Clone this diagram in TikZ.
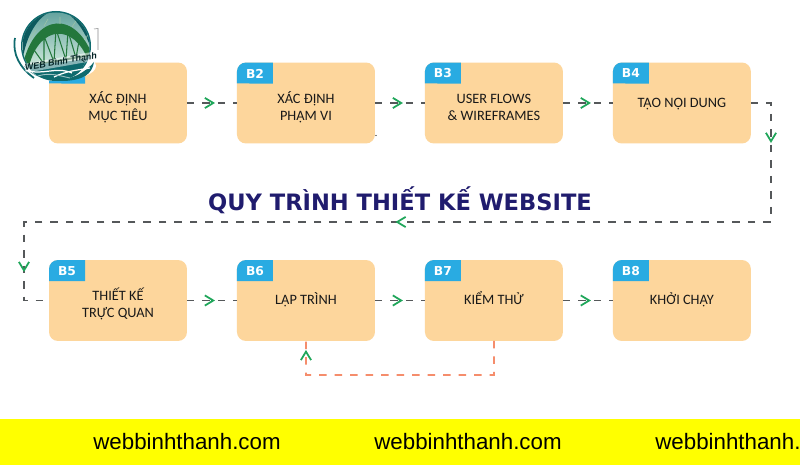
\documentclass[tikz,border=0pt]{standalone}
\usepackage{fontspec}
\setmainfont{Carlito}
\newfontfamily\headfont{DejaVu Sans}
\newfontfamily\webfont{Liberation Sans}
\usetikzlibrary{arrows.meta, positioning, decorations.markings}
\definecolor{boxorange}{HTML}{FDD69C}
\definecolor{tabblue}{HTML}{29ABE2}
\definecolor{headblue}{HTML}{201C6E}
\definecolor{flowgray}{HTML}{55585A}
\definecolor{flowgreen}{HTML}{1FA65A}
\definecolor{backsalmon}{HTML}{F58D6C}
\definecolor{bandyellow}{HTML}{FFFF00}
\definecolor{logoteal}{HTML}{0E6A6E}
\definecolor{logomint}{HTML}{CDE8DA}
\definecolor{logogreen}{HTML}{23773C}
\tikzset{
  greentip/.tip={Straight Barb[length=4.8pt,width=5.8pt,color=flowgreen,line width=1pt]},
  tipat/.style={postaction={decorate,decoration={markings,mark=at position #1 with {\arrow{greentip}}}}},
  stepbox/.style={fill=boxorange,minimum width=2.76cm,minimum height=1.62cm,rounded corners=0.18cm,inner sep=0pt,outer sep=0pt},
  steptext/.style={align=center,inner sep=0pt,text=black!90,font=\fontsize{8.15}{9.7}\selectfont},
  oneline/.style={steptext,text height=7.5pt,text depth=2.4pt},
  tablabel/.style={inner sep=0pt,text=white,font=\headfont\bfseries\fontsize{7}{8}\selectfont},
  flowline/.style={draw=flowgray,line width=0.7pt,dash pattern=on 0.15cm off 0.16cm},
  backline/.style={draw=backsalmon,line width=1pt,dash pattern=on 0.15cm off 0.16cm},
  weblabel/.style={anchor=base west,inner sep=0pt,text=black,font=\webfont\fontsize{12.7}{14}\selectfont}
}
\newcommand{\steptab}[1]{%
  \fill[tabblue] ([yshift=-0.42cm]#1.north west) [rounded corners=0.18cm] -- (#1.north west) [sharp corners] -- ++(36,0) -- ++(0,21) -- cycle;
}
\begin{document}
\begin{tikzpicture}[x=0.02cm,y=-0.02cm]
\useasboundingbox (0,0) rectangle (800,465);
\fill[white] (0,0) rectangle (800,465);
\fill[bandyellow] (0,419) rectangle (800,465);

\node[stepbox] (b1) at (118,103) {};
\node[stepbox,right=1cm of b1] (b2) {};
\node[stepbox,right=1cm of b2] (b3) {};
\node[stepbox,right=1cm of b3] (b4) {};
\node[stepbox] (b5) at (118,300.5) {};
\node[stepbox,right=1cm of b5] (b6) {};
\node[stepbox,right=1cm of b6] (b7) {};
\node[stepbox,right=1cm of b7] (b8) {};

\steptab{b1}
\steptab{b2}
\steptab{b3}
\steptab{b4}
\steptab{b5}
\steptab{b6}
\steptab{b7}
\steptab{b8}
\node[tablabel] (tab2) at ([xshift=0.36cm,yshift=-0.22cm]b2.north west) {B2};
\node[tablabel] (tab3) at ([xshift=0.36cm,yshift=-0.22cm]b3.north west) {B3};
\node[tablabel] (tab4) at ([xshift=0.36cm,yshift=-0.22cm]b4.north west) {B4};
\node[tablabel] (tab5) at ([xshift=0.36cm,yshift=-0.22cm]b5.north west) {B5};
\node[tablabel] (tab6) at ([xshift=0.36cm,yshift=-0.22cm]b6.north west) {B6};
\node[tablabel] (tab7) at ([xshift=0.36cm,yshift=-0.22cm]b7.north west) {B7};
\node[tablabel] (tab8) at ([xshift=0.36cm,yshift=-0.22cm]b8.north west) {B8};

\node[steptext] (t1) at ([yshift=-0.08cm]b1.center) {XÁC ĐỊNH\\MỤC TIÊU};
\node[steptext] (t2) at ([yshift=-0.08cm]b2.center) {XÁC ĐỊNH\\PHẠM VI};
\node[steptext] (t3) at ([yshift=-0.08cm]b3.center) {USER FLOWS\\\& WIREFRAMES};
\node[oneline] (t4) at (b4.center) {TẠO NỘI DUNG};
\node[steptext] (t5) at ([yshift=-0.06cm]b5.center) {THIẾT KẾ\\TRỰC QUAN};
\node[oneline] (t6) at (b6.center) {LẬP TRÌNH};
\node[oneline] (t7) at (b7.center) {KIỂM THỬ};
\node[oneline] (t8) at (b8.center) {KHỞI CHẠY};

\draw[flowline,tipat=0.56] (b1) -- (b2);
\draw[flowline,tipat=0.56] (b2) -- (b3);
\draw[flowline,tipat=0.56] (b3) -- (b4);
\draw[flowline,tipat=0.56] (b5) -- (b6);
\draw[flowline,tipat=0.56] (b6) -- (b7);
\draw[flowline,tipat=0.56] (b7) -- (b8);

\coordinate (c1) at (771,103);
\coordinate (c2) at (771,222);
\coordinate (c3) at (24,222);
\coordinate (c4) at (24,300.5);
\draw[flowline,tipat=0.0607,tipat=0.52,tipat=0.946] (b4) -- (c1) -- (c2) -- (c3) -- (c4) -- (b5);

\coordinate (c5) at (494,375);
\coordinate (c6) at (306,375);
\draw[backline,tipat=0.965] (b7.south) -- (c5) -- (c6) -- (b6.south);

\node[inner sep=0pt,text=headblue,font=\headfont\bfseries\fontsize{12.85}{15}\selectfont] (title) at (400,200) {QUY TRÌNH THIẾT KẾ WEBSITE};

\fill[black] (376,135.5) circle (0.6);

\node[weblabel] (web1) at (93,449) {webbinhthanh.com};
\node[weblabel] (web2) at (374,449) {webbinhthanh.com};
\node[weblabel] (web3) at (655,449) {webbinhthanh.};

\fill[white] (55,44) circle (37);
\fill[white] (60,66) ellipse (36 and 14);
\draw[flowgray!70,line width=0.3pt] (94,29) -- (98,28.5) -- (98,50);
\fill[logoteal] (56,46) circle (35);
\begin{scope}
\clip (56,46) circle (33.5);
\shade[top color=logoteal!55!logomint,bottom color=logomint] (15,12) rectangle (98,66);
\fill[logoteal!85!black] (18,12) -- (50,12) .. controls (36,18) and (24,40) .. (22,66) -- (15,66) -- cycle;
\fill[logoteal!85!black] (94,12) -- (66,12) .. controls (80,22) and (90,40) .. (94,60) -- cycle;
\fill[logogreen] (22,68) .. controls (34,10) and (78,10) .. (94,60) -- (88,60) .. controls (74,24) and (40,24) .. (29,66) -- cycle;
\draw[logogreen,line width=0.6pt] (34,50) -- (44,64) -- (44,36) -- (54,62) -- (56,29) -- (66,60) -- (68,31) -- (76,58) -- (79,41);
\draw[white!55!logogreen,line width=0.35pt] (28,42) -- (36,30) (44,26) -- (48,19) (60,24) -- (60,17) (72,27) -- (76,21) (84,40) -- (89,34);
\draw[logogreen!70!black,line width=1.1pt] (18,68) -- (96,54);
\fill[logoteal] (15,68) .. controls (35,62) and (70,64) .. (96,56) -- (96,90) -- (15,90) -- cycle;
\end{scope}
\draw[logoteal,line width=1pt] (15,38) .. controls (12,54) and (20,68) .. (34,78);
\fill[logoteal] (24,66) .. controls (40,84) and (74,86) .. (94,62) .. controls (92,74) and (84,80) .. (64,81) .. controls (46,81) and (32,76) .. (24,66) -- cycle;
\draw[white,line width=0.7pt] (26,70) .. controls (42,76) and (56,66) .. (72,73) (54,77) .. controls (66,71) and (78,70) .. (90,68);
\draw[white!60!logoteal,line width=0.5pt] (38,76) .. controls (50,72) and (60,76) .. (70,78);
\node[fill=white,fill opacity=0.5,text opacity=1,text=logoteal!35!black,rotate=10,inner sep=0.3pt,rounded corners=0.04cm,font=\webfont\bfseries\itshape\fontsize{5.1}{6}\selectfont] (logotext) at (61,62) {WEB Bình Thạnh};
\end{tikzpicture}
\end{document}
